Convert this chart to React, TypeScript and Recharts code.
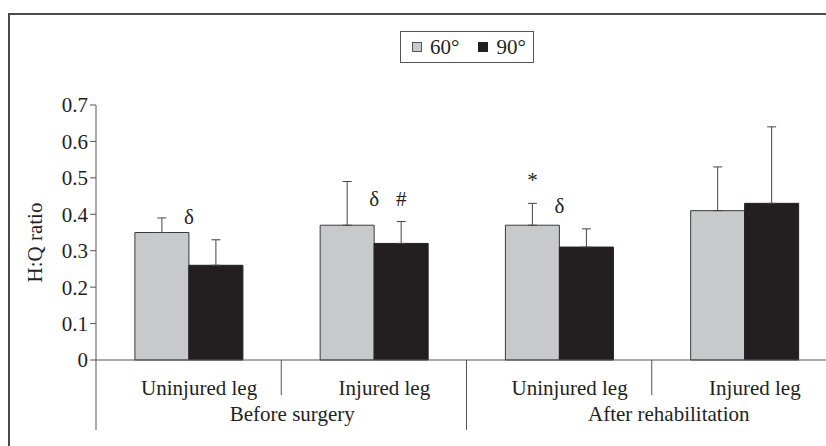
import { BarChart, Bar, XAxis, YAxis, ErrorBar, Legend, LabelList } from "recharts";

const legs = ["Uninjured leg", "Injured leg", "Uninjured leg", "Injured leg"];
const groups = ["Before surgery", "After rehabilitation"];
const groupShift = [11, 17];

const ratio60 = [0.35, 0.37, 0.37, 0.41];
const ratio90 = [0.26, 0.32, 0.31, 0.43];
const sd60 = [0.04, 0.12, 0.06, 0.12];
const sd90 = [0.07, 0.06, 0.05, 0.21];

// significance marks (drawn above the error bars)
const edgeMark90 = ["δ", "δ", "δ", ""]; // at the 60°/90° boundary
const centerMark90 = ["", "#", "", ""];
const centerMark60 = ["", "", "*", ""];

const yTicks = [0, 0.1, 0.2, 0.3, 0.4, 0.5, 0.6, 0.7];

const FONT = "'Liberation Serif', 'Times New Roman', serif";
const INK = "#231f20";
const GREY = "#c8c9cb";
const AXIS = "#555";

const data = legs.map((leg, i) => ({
  leg,
  v60: ratio60[i],
  v90: ratio90[i],
  e60: [0, sd60[i]],
  e90: [0, sd90[i]],
}));

const series = [
  { key: "v60", name: "60°", fill: GREY },
  { key: "v90", name: "90°", fill: INK },
];

const LegTick = (props: any) => {
  const { x, y, payload, index } = props;
  const half = payload?.offset || 92.6;
  const left = x - half;
  const first = index % 2 === 0;
  return (
    <g>
      <line x1={left} y1={y} x2={left} y2={y + (first ? 70 : 35)} stroke={AXIS} strokeWidth={1} />
      <text x={x + 10.5} y={y + 35} textAnchor="middle" fontFamily={FONT} fontSize={21} fill={INK}>
        {payload.value}
      </text>
      {first && (
        <text
          x={x + half + groupShift[index / 2]}
          y={y + 61}
          textAnchor="middle"
          fontFamily={FONT}
          fontSize={21}
          fill={INK}
        >
          {groups[index / 2]}
        </text>
      )}
    </g>
  );
};

const markLabel = (marks: string[], errs: number[], where: "center" | "left") => (p: any) => {
  const { x, y, width, height, index, value } = p;
  const m = marks[index];
  if (!m) return null;
  const perUnit = height / value;
  const top = y - errs[index] * perUnit;
  return (
    <text
      x={where === "center" ? x + width / 2 : x}
      y={top - 23}
      textAnchor="middle"
      dominantBaseline="central"
      fontFamily={FONT}
      fontSize={21}
      fill={INK}
    >
      {m}
    </text>
  );
};

const LegendBox = () => (
  <div
    style={{
      display: "flex",
      alignItems: "center",
      boxSizing: "border-box",
      width: 134,
      height: 32,
      border: `1px solid ${AXIS}`,
      paddingLeft: 11,
      fontFamily: FONT,
      fontSize: 21,
      color: INK,
      background: "#fff",
    }}
  >
    {series.map((s, i) => (
      <span key={s.key} style={{ display: "flex", alignItems: "center", marginLeft: i ? 19 : 0 }}>
        <span
          style={{
            display: "inline-block",
            boxSizing: "border-box",
            width: 10,
            height: 10,
            background: s.fill,
            border: `1px solid ${i ? INK : AXIS}`,
            marginRight: 8,
          }}
        />
        {s.name}
      </span>
    ))}
  </div>
);

export default function App() {
  return (
    <div
      style={{
        position: "fixed",
        left: 0,
        top: 0,
        width: 826,
        height: 446,
        overflow: "hidden",
        background: "#fff",
      }}
    >
      <div
        style={{
          position: "absolute",
          left: 8,
          top: 13,
          width: 900,
          height: 500,
          border: "2px solid #4a4a4a",
        }}
      />
      <div style={{ position: "absolute", left: 0, top: 0 }}>
        <BarChart
          width={850}
          height={446}
          data={data}
          margin={{ top: 105, right: 13, left: 0, bottom: 16 }}
          barCategoryGap="21%"
          barGap={0}
        >
          <XAxis
            dataKey="leg"
            height={70}
            stroke={AXIS}
            tickLine={false}
            tickSize={0}
            tickMargin={0}
            interval={0}
            tick={<LegTick />}
          />
          <YAxis
            width={96}
            domain={[0, 0.7]}
            ticks={yTicks}
            stroke={AXIS}
            tickSize={6}
            tick={{ fontFamily: FONT, fontSize: 21, fill: INK }}
            tickFormatter={(v: number) => (v === 0 ? "0" : v.toFixed(1))}
            label={(p: any) => {
              const vb = p.viewBox;
              const cx = 35;
              const cy = vb.y + vb.height / 2 + 10;
              return (
                <text
                  x={cx}
                  y={cy}
                  transform={`rotate(-90 ${cx} ${cy})`}
                  textAnchor="middle"
                  dominantBaseline="central"
                  fontFamily={FONT}
                  fontSize={21}
                  fill={INK}
                >
                  H:Q ratio
                </text>
              );
            }}
          />
          <Legend
            layout="horizontal"
            verticalAlign="middle"
            align="center"
            wrapperStyle={{ top: 31, left: 400, width: 134, height: 32 }}
            content={<LegendBox />}
          />
          <Bar dataKey="v60" name="60°" fill={GREY} stroke="#3a3a3a" strokeWidth={1} isAnimationActive={false}>
            <ErrorBar dataKey="e60" width={4.5} stroke="#444" strokeWidth={1} direction="y" />
            <LabelList dataKey="v60" content={markLabel(centerMark60, sd60, "center")} />
          </Bar>
          <Bar dataKey="v90" name="90°" fill={INK} stroke={INK} strokeWidth={1} isAnimationActive={false}>
            <ErrorBar dataKey="e90" width={4.5} stroke="#444" strokeWidth={1} direction="y" />
            <LabelList dataKey="v90" content={markLabel(edgeMark90, sd90, "left")} />
            <LabelList dataKey="v90" content={markLabel(centerMark90, sd90, "center")} />
          </Bar>
        </BarChart>
      </div>
    </div>
  );
}
